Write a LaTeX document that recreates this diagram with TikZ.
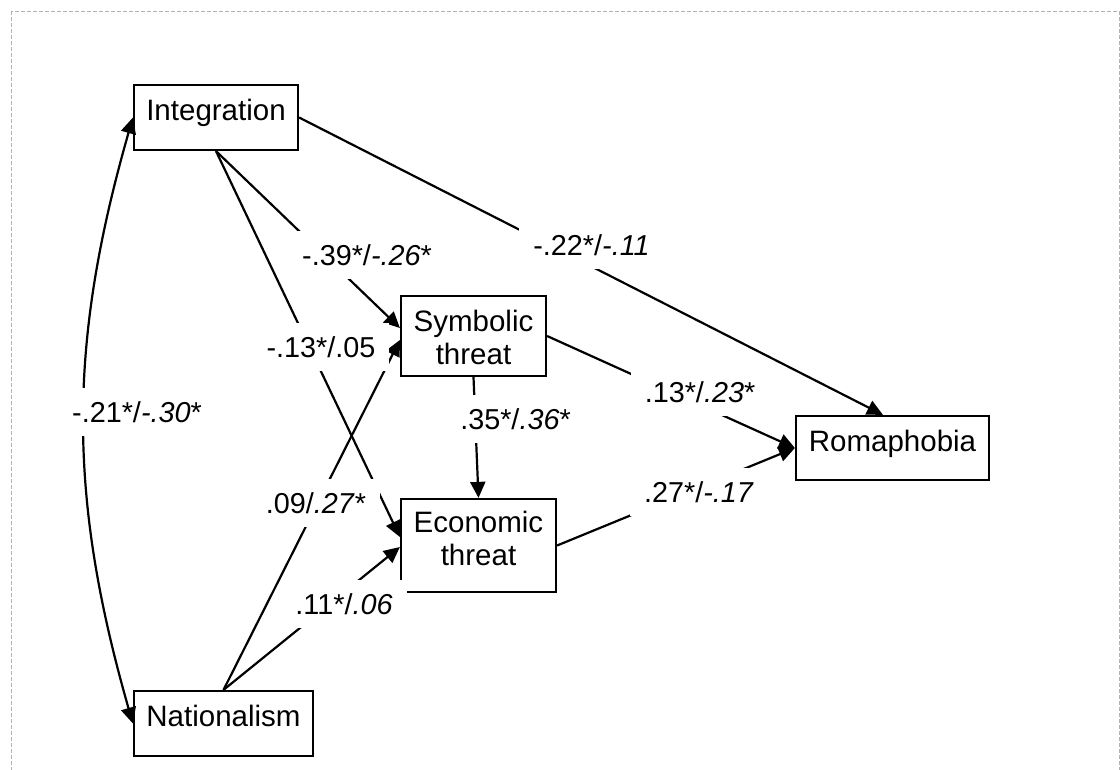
\documentclass[tikz,border=0pt]{standalone}
\usepackage{fontspec}
\setmainfont{Liberation Sans}
\usetikzlibrary{arrows.meta}

\begin{document}
\begin{tikzpicture}[x=1pt,y=-1pt,
  varbox/.style={draw,line width=2.2pt,inner sep=0pt,anchor=base,text height=35pt,font=\fontsize{29.5}{33}\selectfont},
  coef/.style={fill=white,inner xsep=14pt,inner ysep=8pt,anchor=base,text height=26pt,text depth=6pt,font=\fontsize{28.8}{33}\selectfont},
  link/.style={line width=2.2pt,-{Triangle[length=16pt,width=15pt]}}]
  \useasboundingbox (0,0) rectangle (1120,769);
  \draw[gray!60,line width=1pt,dash pattern=on 4pt off 2pt] (11,11) rectangle (1119,800);

  \node[varbox,minimum width=164pt,text depth=30pt] (int) at (216,120) {Integration};
  \node[varbox,minimum width=179pt,text depth=30pt] (nat) at (223.5,726) {Nationalism};
  \node[varbox,minimum width=145pt,text depth=45pt] (sym) at (473.5,331) {\begin{tabular}[t]{@{}c@{}}Symbolic\\threat\end{tabular}};
  \node[varbox,minimum width=155pt,text height=33pt,text depth=60pt] (eco) at (478.5,532) {\begin{tabular}[t]{@{}c@{}}Economic\\threat\end{tabular}};
  \node[varbox,minimum width=193pt,text depth=29pt] (rom) at (892.5,451) {Romaphobia};

  \draw[link] (int.east) -- ([xshift=-9.5pt]rom.north);
  \draw[link] (int.south) -- ([yshift=8pt]sym.west);
  \draw[link] (int.south) -- ([yshift=8.5pt]eco.west);
  \draw[link] (nat.north) -- ([yshift=-4pt]sym.west);
  \draw[link] (nat.north) -- ([yshift=-1.5pt]eco.west);
  \draw[link] (sym.south) -- (eco.north);
  \draw[link] (sym.east) -- (rom.west);
  \draw[link] (eco.east) -- (rom.west);
  \draw[line width=2.2pt,{Triangle[length=16pt,width=15pt]}-{Triangle[length=16pt,width=15pt]}] (int.west) to[bend right=16] (nat.west);

  % path coefficients
  \node[coef] (c1) at (591.5,255) {-.22*/\textit{-.11}};
  \node[coef] (c2) at (367,265) {-.39*/\textit{-.26}*};
  \node[coef] (c3) at (321,357) {-.13*/.05};
  \node[coef] (c4) at (316,513) {.09/\textit{.27}*};
  \node[coef] (c5) at (344,614) {.11*/\textit{.06}};
  \node[coef] (c6) at (515.5,429) {.35*/\textit{.36}*};
  \node[coef] (c7) at (700,402) {.13*/\textit{.23}*};
  \node[coef] (c8) at (699,502) {.27*/\textit{-.17}};
  \node[coef] (c9) at (137,422) {-.21*/\textit{-.30}*};
\end{tikzpicture}
\end{document}
